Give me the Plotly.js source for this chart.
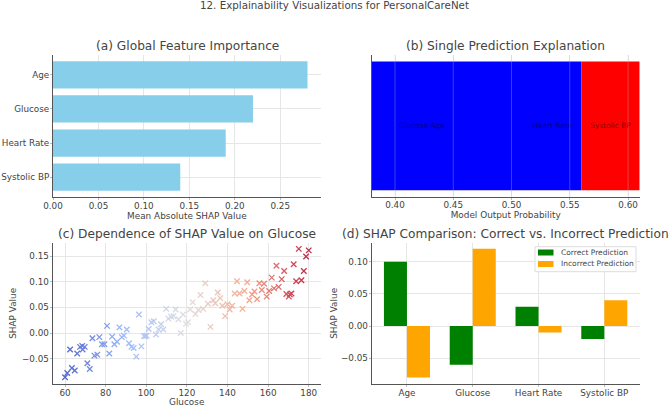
<!DOCTYPE html>
<html>
<head>
<meta charset="utf-8">
<script src="https://cdn.plot.ly/plotly-3.0.1.min.js"></script>
<style>html,body{margin:0;padding:0;background:#fff}#chart{width:669px;height:407px}</style>
</head>
<body>
<div id="chart"></div>
<script>
const features = ["Age", "Glucose", "Heart Rate", "Systolic BP"];
const meanShap = [0.28, 0.22, 0.19, 0.14];

const forceBase = [0.38, 0.56];
const forceWidth = [0.18, 0.05];
const forceColors = ["#0000ff", "#ff0000"];
const forceLabels = ["Glucose Age", "Heart Rate", "Systolic BP"];
const forceLabelX = [0.423, 0.535, 0.585];
const forceTicks = [0.40, 0.45, 0.50, 0.55, 0.60];

const glucose = [60, 61.1, 62.5, 63.4, 64.8, 66, 67.4, 68.5, 68.7, 69.7, 71, 72.2, 73.5, 74.5, 75.9, 76.9, 78.2, 79.4, 80.7, 81.8, 83.2, 84.3, 85.6, 86.8, 88, 89, 90.4, 91.5, 92.7, 93.8, 95.1, 96.4, 97.6, 98.9, 99.6, 100.2, 101.2, 102.5, 103.7, 104.8, 106.1, 107.3, 108.4, 109.8, 110.9, 112.2, 113.4, 114.5, 115.8, 117, 118.1, 119.6, 120.6, 121.6, 122.9, 124.2, 125.7, 126.7, 128, 129.1, 130.4, 131.6, 133, 134, 135.2, 136.4, 137.5, 138.8, 140, 141.1, 142.3, 143.6, 144.7, 145.9, 147.4, 148.3, 149.7, 150.8, 152.1, 153.3, 154.6, 155.7, 156.9, 158, 159.3, 160.5, 161.8, 162.9, 164.1, 165.2, 166.7, 167.9, 169, 170.2, 170.7, 171.5, 172.6, 173.8, 175.1, 176.4, 177.6, 178.7, 180];
const glucoseShap = [-0.086, -0.078, -0.032, -0.068, -0.073, -0.040, -0.027, -0.025, -0.032, -0.027, -0.059, -0.070, -0.010, -0.044, -0.042, -0.008, -0.022, -0.022, 0.014, -0.040, -0.007, -0.022, -0.017, 0.011, -0.008, -0.005, 0.007, -0.020, -0.027, -0.029, -0.046, 0.036, -0.026, -0.006, -0.006, -0.005, 0.008, 0.021, 0.023, -0.003, 0.007, 0.017, 0.007, 0.047, 0.028, 0.032, 0.033, 0.046, 0.027, 0, 0.036, 0.018, 0.021, 0.046, 0.060, 0.037, 0.045, 0.074, 0.047, 0.097, 0.057, 0.012, 0.064, 0.058, 0.079, 0.068, 0.053, 0.033, 0.056, 0.046, 0.053, 0.077, 0.101, 0.077, 0.047, 0.082, 0.099, 0.064, 0.075, 0.081, 0.066, 0.097, 0.084, 0.096, 0.071, 0.082, 0.108, 0.087, 0.131, 0.090, 0.105, 0.121, 0.076, 0.071, 0.075, 0.077, 0.134, 0.101, 0.164, 0.103, 0.121, 0.149, 0.161];

const correctShap = [0.10, -0.06, 0.03, -0.02];
const incorrectShap = [-0.08, 0.12, -0.01, 0.04];
const legendNames = ["Correct Prediction", "Incorrect Prediction"];
const legendColors = ["green", "orange"];

const W = 669, H = 407;
const textColor = "#444444";
const spineColor = "#555555";
const gridColor = "#e6e6e6";
const coolwarm = [[0, "#3b4cc0"], [0.25, "#8db0fe"], [0.5, "#dddcdc"], [0.75, "#f59c7d"], [1, "#b40426"]];

function domX(a, b) { return [a / W, b / W]; }
function domY(top, bottom) { return [1 - bottom / H, 1 - top / H]; }
function px(x) { return x / W; }
function py(y) { return 1 - y / H; }

function axis(extra) {
  return Object.assign({
    showline: true, linecolor: spineColor, linewidth: 1,
    showgrid: true, gridcolor: gridColor, gridwidth: 1,
    zeroline: false, ticks: "outside", ticklen: 2, tickcolor: "#bbbbbb",
    tickfont: { size: 8.8, color: textColor },
    ticklabelstandoff: -2,
    automargin: false
  }, extra);
}
function axisTitle(text, standoff) {
  return { text: text, font: { size: 8.9, color: textColor }, standoff: standoff };
}
function panelTitle(text, x, y) {
  return { text: text, xref: "paper", yref: "paper", x: px(x), y: py(y), xanchor: "center", yanchor: "middle", showarrow: false, font: { size: 12.2, color: textColor } };
}
function paperRect(x0, y0, x1, y1, fill, line) {
  return { type: "rect", layer: "above", xref: "paper", yref: "paper", x0: px(x0), x1: px(x1), y0: py(y0), y1: py(y1), fillcolor: fill, line: line };
}

const traces = [
  { type: "bar", orientation: "h", y: features, x: meanShap, width: 0.8, marker: { color: "skyblue" }, xaxis: "x", yaxis: "y", showlegend: false },

  { type: "bar", orientation: "h", y: [0, 0], x: forceWidth, base: forceBase, width: 0.8, marker: { color: forceColors }, xaxis: "x2", yaxis: "y2", showlegend: false },
  { type: "scatter", mode: "text", x: forceLabelX, y: [0, 0, 0], text: forceLabels, textposition: "middle center", textfont: { size: 7.4, color: "rgba(0,0,0,0.5)" }, xaxis: "x2", yaxis: "y2", showlegend: false },

  { type: "scatter", mode: "markers", x: glucose, y: glucoseShap, xaxis: "x3", yaxis: "y3", showlegend: false, opacity: 0.85,
    marker: { symbol: "x-thin", size: 5.5, line: { width: 1.3, color: glucose, colorscale: coolwarm, cmin: 60, cmax: 180 } } },

  { type: "bar", name: legendNames[0], x: features, y: correctShap, marker: { color: legendColors[0] }, xaxis: "x4", yaxis: "y4", showlegend: false },
  { type: "bar", name: legendNames[1], x: features, y: incorrectShap, marker: { color: legendColors[1] }, xaxis: "x4", yaxis: "y4", showlegend: false }
];

// the native legend swatch is too wide for the small box in (d), so it is built by hand
const legendShapes = [
  paperRect(535, 246.7, 636, 271.7, "rgba(255,255,255,0.8)", { color: "#dddddd", width: 1 }),
  paperRect(538, 249.5, 553.5, 255.5, legendColors[0], { width: 0 }),
  paperRect(538, 261, 553.5, 267, legendColors[1], { width: 0 })
];
const legendTexts = legendNames.map((name, i) => ({
  text: name, xref: "paper", yref: "paper", x: px(559), y: py(252.3 + i * 11.6), xanchor: "left", yanchor: "middle", showarrow: false, font: { size: 7.5, color: textColor }
}));

const gridOverBars = forceTicks.map((v) => ({ type: "line", layer: "above", xref: "x2", yref: "y2 domain", x0: v, x1: v, y0: 0, y1: 1, line: { color: "rgba(200,200,200,0.3)", width: 1 } }));

const layout = {
  width: W, height: H,
  margin: { l: 0, r: 0, t: 0, b: 0 },
  paper_bgcolor: "#fff", plot_bgcolor: "#fff",
  font: { family: "DejaVu Sans", color: textColor },
  barmode: "group", bargap: 0.3, bargroupgap: 0,
  hovermode: false,
  showlegend: false,

  xaxis: axis({ domain: domX(53, 320.7), range: [0, 0.2945], tick0: 0, dtick: 0.05, tickformat: ".2f", title: axisTitle("Mean Absolute SHAP Value", 2), anchor: "y" }),
  yaxis: axis({ domain: domY(55, 197), type: "category", categoryorder: "array", categoryarray: features.slice().reverse(), range: [-0.58, 3.58], ticklabelstandoff: -1, anchor: "x" }),

  xaxis2: axis({ domain: domX(371.7, 639.7), range: [0.38, 0.61], tickvals: forceTicks, tickformat: ".2f", title: axisTitle("Model Output Probability", 2), anchor: "y2" }),
  yaxis2: axis({ domain: domY(55, 196.7), range: [-0.44, 0.44], showticklabels: false, ticks: "", showgrid: false, anchor: "x2" }),

  xaxis3: axis({ domain: domX(52.7, 320.7), range: [53.94, 185.9], dtick: 20, title: axisTitle("Glucose", 2), anchor: "y3" }),
  yaxis3: axis({ domain: domY(242.7, 384), range: [-0.0993, 0.176], tick0: 0, dtick: 0.05, tickformat: ".2f", ticklabelstandoff: -1, title: axisTitle("SHAP Value", 3), anchor: "x3" }),

  xaxis4: axis({ domain: domX(371.7, 639.7), type: "category", categoryorder: "array", categoryarray: features, range: [-0.536, 3.538], anchor: "y4" }),
  yaxis4: axis({ domain: domY(242.7, 384), range: [-0.0899, 0.1295], tick0: 0, dtick: 0.05, tickformat: ".2f", ticklabelstandoff: -1, title: axisTitle("SHAP Value", 1), anchor: "x4" }),

  shapes: gridOverBars.concat(legendShapes),

  annotations: [
    { text: "12. Explainability Visualizations for PersonalCareNet", xref: "paper", yref: "paper", x: 0.5, y: py(5), xanchor: "center", yanchor: "middle", showarrow: false, font: { size: 10.3, color: textColor } },
    panelTitle("(a) Global Feature Importance", 187, 46),
    panelTitle("(b) Single Prediction Explanation", 505.5, 46),
    panelTitle("(c) Dependence of SHAP Value on Glucose", 187, 233.5),
    panelTitle("(d) SHAP Comparison: Correct vs. Incorrect Prediction", 505.5, 233.5)
  ].concat(legendTexts)
};

Plotly.newPlot("chart", traces, layout, { displayModeBar: false, staticPlot: true });
</script>
</body>
</html>
